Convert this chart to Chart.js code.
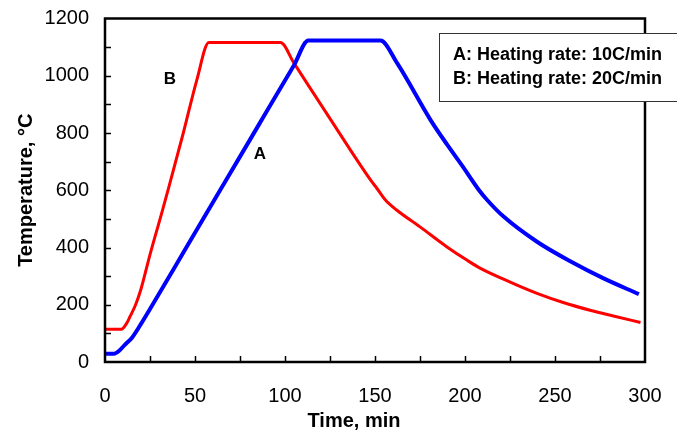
<!DOCTYPE html>
<html>
<head>
<meta charset="utf-8">
<script src="https://cdn.jsdelivr.net/npm/chart.js@4/dist/chart.umd.min.js"></script>
<style>
    html, body { margin: 0; padding: 0; background: #fff; }
    #wrap { width: 677px; height: 432px; }
</style>
</head>
<body>
<div id="wrap"><canvas id="tempChart" width="677" height="432"></canvas></div>
<script>
// Curve A: heating rate 10C/min
const timeA = [0, 5, 8, 11, 15, 20, 25, 45, 65, 85, 105, 113, 153, 162.3, 180.8, 190, 198.5, 207.7, 212.3, 221.6, 240, 259, 277, 296.6];
const tempA = [29, 29, 40, 60, 85, 133, 185, 398, 611, 824, 1037, 1123, 1123, 1044, 846, 760, 685, 601, 566, 507, 420, 350, 292, 237];

// Curve B: heating rate 20C/min
const timeB = [0, 9, 12, 14, 17, 20, 25, 31.5, 35.5, 43.5, 51, 57.7, 97.5, 105, 125, 147.5, 151, 155.8, 162, 175, 190, 201, 208.6, 227, 240, 255, 270, 283, 297.5];
const tempB = [114, 114, 135, 160, 200, 255, 375, 520, 612, 800, 985, 1116, 1116, 1044, 850, 636, 607, 566, 531, 472, 402, 356, 327, 274, 240, 207, 180, 160, 138];

const xTicks = { min: 0, max: 300, step: 25, labelEvery: 50 };
const yTicks = { min: 0, max: 1200, step: 100, labelEvery: 200 };

const legendLines = ['A: Heating rate: 10C/min', 'B: Heating rate: 20C/min'];
const curveTags = [
    { text: 'A', x: 86, y: 727 },
    { text: 'B', x: 36, y: 986 }
];

const FONT = '"Liberation Sans", Arial, sans-serif';

function toPoints(xs, ys) {
    return xs.map((x, i) => ({ x: x, y: ys[i] }));
}

function noScalePadding(scale) {
    scale.paddingTop = 0;
    scale.paddingBottom = 0;
    scale.paddingLeft = 0;
    scale.paddingRight = 0;
}

// frame, inward tick marks, tags, legend box, x title
const decorPlugin = {
    id: 'decor',
    afterDraw(chart) {
        const ctx = chart.ctx;
        const area = chart.chartArea;
        const xs = chart.scales.x;
        const ys = chart.scales.y;
        ctx.save();

        ctx.strokeStyle = '#000';
        ctx.lineWidth = 1.5;
        ctx.beginPath();
        for (let v = xTicks.min + xTicks.step; v < xTicks.max; v += xTicks.step) {
            const px = Math.round(xs.getPixelForValue(v)) + 0.5;
            ctx.moveTo(px, area.bottom);
            ctx.lineTo(px, area.bottom - 6);
        }
        for (let v = yTicks.min + yTicks.step; v < yTicks.max; v += yTicks.step) {
            const py = Math.round(ys.getPixelForValue(v)) + 0.5;
            ctx.moveTo(area.left, py);
            ctx.lineTo(area.left + 6, py);
        }
        ctx.stroke();

        ctx.lineWidth = 2.5;
        ctx.strokeRect(area.left, area.top, area.right - area.left, area.bottom - area.top);

        ctx.fillStyle = '#000';
        ctx.font = 'bold 17px ' + FONT;
        ctx.textAlign = 'center';
        ctx.textBaseline = 'middle';
        curveTags.forEach(t => {
            ctx.fillText(t.text, xs.getPixelForValue(t.x), ys.getPixelForValue(t.y));
        });

        // legend box
        ctx.fillStyle = '#fff';
        ctx.fillRect(439, 33.5, 245, 68);
        ctx.strokeStyle = '#333';
        ctx.lineWidth = 1;
        ctx.strokeRect(439.5, 33.5, 245, 68);
        ctx.fillStyle = '#000';
        ctx.font = 'bold 18px ' + FONT;
        ctx.textAlign = 'left';
        legendLines.forEach((line, i) => {
            ctx.fillText(line, 453, 55 + i * 24);
        });

        ctx.font = 'bold 20px ' + FONT;
        ctx.textAlign = 'center';
        ctx.fillText('Time, min', 354, 421);
        ctx.restore();
    }
};

const ctx = document.getElementById('tempChart').getContext('2d');
const tempChart = new Chart(ctx, {
    type: 'line',
    data: {
        datasets: [{
            label: 'A',
            data: toPoints(timeA, tempA),
            borderColor: '#0000ff',
            borderWidth: 4,
            pointRadius: 0,
            cubicInterpolationMode: 'monotone',
            fill: false
        }, {
            label: 'B',
            data: toPoints(timeB, tempB),
            borderColor: '#ff0000',
            borderWidth: 3,
            pointRadius: 0,
            cubicInterpolationMode: 'monotone',
            fill: false
        }]
    },
    options: {
        responsive: false,
        animation: false,
        layout: { padding: { left: 0, right: 32, top: 18.5, bottom: 0 } },
        plugins: {
            legend: { display: false },
            tooltip: { enabled: false }
        },
        scales: {
            x: {
                type: 'linear',
                min: xTicks.min,
                max: xTicks.max,
                grid: { display: false, drawTicks: false },
                border: { display: false },
                ticks: {
                    stepSize: xTicks.step,
                    padding: 22,
                    color: '#000',
                    font: { family: FONT, size: 20 },
                    maxRotation: 0,
                    autoSkip: false,
                    callback: v => (v % xTicks.labelEvery === 0 ? v : '')
                },
                afterFit: scale => {
                    scale.height = 70;
                    noScalePadding(scale);
                }
            },
            y: {
                type: 'linear',
                min: yTicks.min,
                max: yTicks.max,
                grid: { display: false, drawTicks: false },
                border: { display: false },
                title: {
                    display: true,
                    text: 'Temperature, °C',
                    color: '#000',
                    font: { family: FONT, size: 20, weight: 'bold' },
                    padding: { top: 14, bottom: 0 }
                },
                ticks: {
                    stepSize: yTicks.step,
                    padding: 16,
                    color: '#000',
                    font: { family: FONT, size: 20 },
                    autoSkip: false,
                    callback: v => (v % yTicks.labelEvery === 0 ? v : '')
                },
                afterFit: scale => {
                    scale.width = 105;
                    noScalePadding(scale);
                }
            }
        }
    },
    plugins: [decorPlugin]
});
</script>
</body>
</html>
